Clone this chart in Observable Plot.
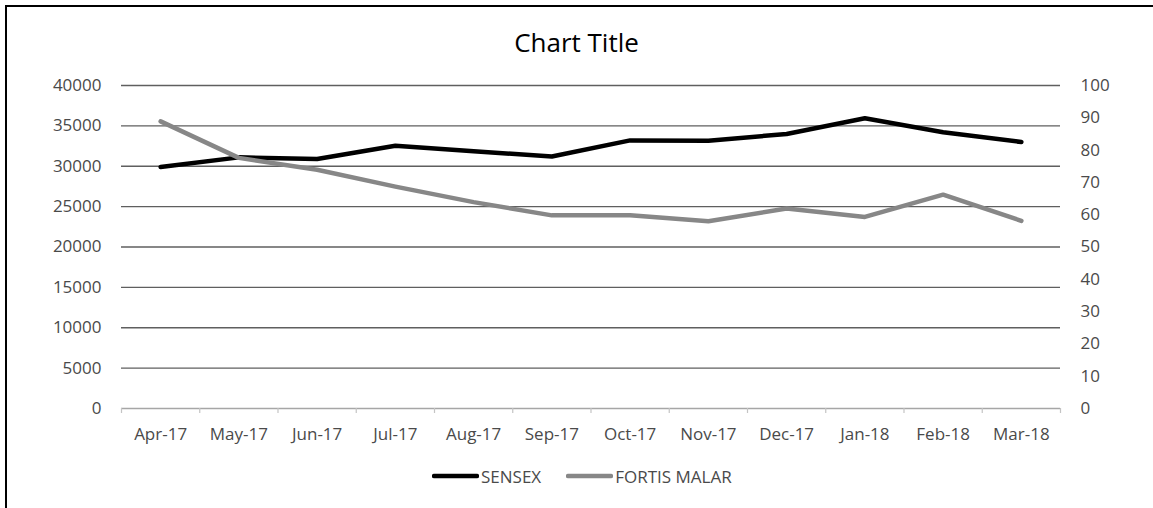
<!DOCTYPE html>
<html>
<head>
<meta charset="utf-8">
<script src="https://cdn.jsdelivr.net/npm/d3@7"></script>
<script src="https://cdn.jsdelivr.net/npm/@observablehq/plot@0.6"></script>
<style>
  html, body { margin: 0; padding: 0; background: #fff; overflow: hidden; }
  body { width: 1153px; height: 508px; position: relative; font-family: "Open Sans", sans-serif; }
  #frame { position: absolute; left: 5px; top: 5px; width: 1200px; height: 600px; border: 2px solid #000; box-sizing: border-box; pointer-events: none; }
  #title { height: 70px; box-sizing: border-box; padding-top: 24px; line-height: 36px; text-align: center; font-size: 26px; color: #000; }
  #chart svg { display: block; }
  #legend { position: absolute; left: 432px; top: 452px; height: 48px; display: flex; align-items: center; font-size: 17px; color: #4a4a4a; }
  .item { display: flex; align-items: center; }
  .item svg { display: block; }
</style>
</head>
<body>
<div id="frame"></div>
<div id="title">Chart Title</div>
<div id="chart"></div>
<div id="legend"></div>
<script>
const months = ["Apr-17","May-17","Jun-17","Jul-17","Aug-17","Sep-17","Oct-17","Nov-17","Dec-17","Jan-18","Feb-18","Mar-18"];
const sensex = [29900, 31100, 30900, 32550, 31850, 31200, 33200, 33150, 34000, 35950, 34200, 33000];
const fortis = [88.9, 77.6, 73.9, 68.7, 63.9, 59.8, 59.8, 58.0, 61.9, 59.3, 66.2, 58.1];
const leftTicks = [0, 5000, 10000, 15000, 20000, 25000, 30000, 35000, 40000];
const rightTicks = [0, 10, 20, 30, 40, 50, 60, 70, 80, 90, 100];
const seriesNames = ["SENSEX", "FORTIS MALAR"];
const seriesColors = ["#000000", "#878787"];

const leftMax = 40000, rightMax = 100, k = leftMax / rightMax;
const rows = months.map((m, i) => ({i, m, sensex: sensex[i], fortis: fortis[i]}));
const boundaries = d3.range(-0.5, months.length, 1);

const plot = Plot.plot({
  width: 1153,
  height: 382,
  marginLeft: 121,
  marginRight: 93,
  marginTop: 15,
  marginBottom: 44,
  style: {fontFamily: "Open Sans, sans-serif", fontSize: "17px", color: "#4a4a4a", background: "#fff"},
  x: {type: "linear", domain: [-0.5, months.length - 0.5]},
  y: {domain: [0, leftMax]},
  marks: [
    Plot.gridY(leftTicks.filter(d => d > 0), {stroke: "#5f5f5f", strokeOpacity: 1, strokeWidth: 1.4}),
    Plot.ruleY([0], {stroke: "#a6a6a6", strokeWidth: 1.4}),
    Plot.axisX({ticks: boundaries, tickFormat: () => "", tickSize: 5, stroke: "#c4c4c4", strokeWidth: 1.2, label: null}),
    Plot.axisX({ticks: d3.range(months.length), tickFormat: i => months[i], tickSize: 0, tickPadding: 19, fill: "#4a4a4a", label: null}),
    Plot.axisY({anchor: "left", ticks: leftTicks, tickFormat: d => String(d), tickSize: 0, tickPadding: 20, fill: "#4a4a4a", label: null}),
    Plot.axisY({anchor: "right", ticks: rightTicks.map(v => v * k), tickFormat: v => String(Math.round(v / k)), tickSize: 0, tickPadding: 20, fill: "#4a4a4a", label: null}),
    Plot.line(rows, {x: "i", y: "sensex", stroke: seriesColors[0], strokeWidth: 4.5, strokeLinecap: "round", strokeLinejoin: "round"}),
    Plot.line(rows, {x: "i", y: d => d.fortis * k, stroke: seriesColors[1], strokeWidth: 4.5, strokeLinecap: "round", strokeLinejoin: "round"})
  ]
});
document.getElementById("chart").appendChild(plot);

const legend = document.getElementById("legend");
seriesNames.forEach((name, idx) => {
  const item = document.createElement("div");
  item.className = "item";
  if (idx > 0) item.style.marginLeft = "25px";
  item.innerHTML = `<svg width="47" height="10"><line x1="2" y1="5" x2="45" y2="5" stroke="${seriesColors[idx]}" stroke-width="4.5" stroke-linecap="round"/></svg><span style="margin-left:2px">${name}</span>`;
  legend.appendChild(item);
});
</script>
</body>
</html>
